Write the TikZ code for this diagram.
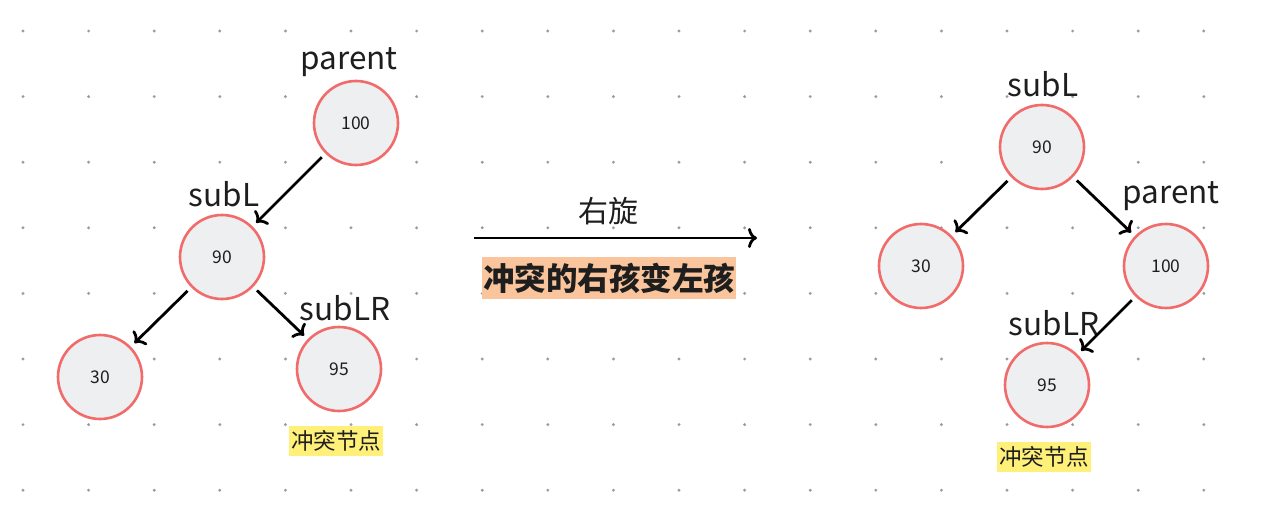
\documentclass[tikz,border=0pt]{standalone}
\usepackage{fontspec}
\setmainfont{Noto Sans CJK SC}
\usetikzlibrary{arrows.meta}
\definecolor{nodefill}{HTML}{EEEFF1}
\definecolor{noderim}{HTML}{F26B6B}
\definecolor{ink}{HTML}{1E1E1E}
\definecolor{dotc}{HTML}{9A9CA5}
\definecolor{orangehl}{HTML}{FAC59C}
\definecolor{yellowhl}{HTML}{FFF07A}
\tikzset{
  treenode/.style={circle, draw=noderim, fill=nodefill, line width=2.6pt, minimum size=84pt, inner sep=0pt, text=ink, font=\fontsize{17.5}{17.5}\selectfont},
  namelabel/.style={text=ink, font=\fontsize{31.5}{31.5}\selectfont, inner sep=0pt},
  tiparrow/.style={-{To[length=9pt,width=20pt]}, line width=2.8pt, black},
  link/.style={tiparrow, shorten <=5pt, shorten >=5pt},
  hlyellow/.style={fill=yellowhl, text=ink, font=\fontsize{22.5}{22.5}\selectfont, inner xsep=2pt, inner ysep=5pt},
  hlorange/.style={fill=orangehl, text=ink, font=\bfseries\fontsize{31.5}{31.5}\selectfont, inner xsep=1pt, inner ysep=6pt},
}
\begin{document}
\begin{tikzpicture}[x=1pt,y=-1pt]
\useasboundingbox (0,0) rectangle (1261,511);
\fill[white] (0,0) rectangle (1261,511);
% dot grid
\foreach \i in {0,...,18}{
  \foreach \j in {0,...,7}{
    \fill[dotc] ({23+65.6*\i},{31+65.6*\j}) circle (1.6pt);
  }
}
% left tree
\node[treenode] (lp) at (356,123) {100};
\node[treenode] (ll) at (222,257) {90};
\node[treenode] (l30) at (100,377) {30};
\node[treenode] (l95) at (339,369) {95};
\node[namelabel] (lpn) at (349,62) {parent};
\node[namelabel] (lln) at (224,194) {subL};
\node[namelabel] (llrn) at (345,308) {subLR};
\node[hlyellow] (lconf) at (336,441) {冲突节点};
\draw[link] (lp) -- (ll);
\draw[link] (ll) -- (l30);
\draw[link] (ll) -- (l95);
% middle arrow
\coordinate (ma) at (474,238);
\coordinate (mb) at (757,238);
\draw[tiparrow] (ma) -- (mb);
\node[text=ink, font=\fontsize{30}{30}\selectfont, inner sep=0pt] (rot) at (608,211) {右旋};
\node[hlorange] (desc) at (609,278) {冲突的右孩变左孩};
% right tree
\node[treenode] (rl) at (1042,147) {90};
\node[treenode] (r30) at (921,266) {30};
\node[treenode] (rp) at (1166,266) {100};
\node[treenode] (r95) at (1047,385) {95};
\node[namelabel] (rln) at (1043,84) {subL};
\node[namelabel] (rpn) at (1171,196) {parent};
\node[namelabel] (rlrn) at (1054,323) {subLR};
\node[hlyellow] (rconf) at (1044,457) {冲突节点};
\draw[link] (rl) -- (r30);
\draw[link] (rl) -- (rp);
\draw[link] (rp) -- (r95);
\end{tikzpicture}
\end{document}
